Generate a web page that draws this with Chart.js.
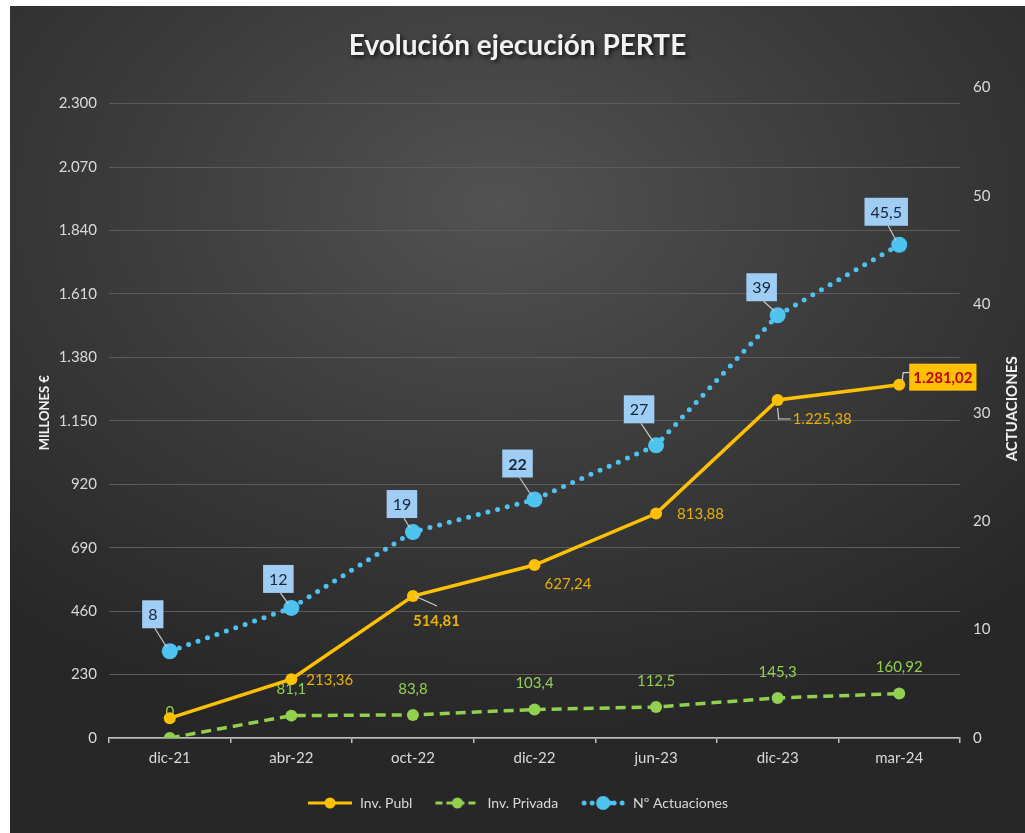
<!DOCTYPE html>
<html>
<head>
<meta charset="utf-8">
<script src="https://cdn.jsdelivr.net/npm/chart.js@4.4.1/dist/chart.umd.min.js"></script>
<style>
  html, body { margin: 0; padding: 0; background: #fff; }
  #wrap {
    position: absolute; left: 10px; top: 6px; width: 1015px; height: 827px;
    background: radial-gradient(ellipse 75% 65% at 48% 24%, #525252 0%, #3b3b3b 50%, #272727 100%);
  }
</style>
</head>
<body>
<div id="wrap"><canvas id="chart"></canvas></div>
<script>
const categories = ['dic-21', 'abr-22', 'oct-22', 'dic-22', 'jun-23', 'dic-23', 'mar-24'];
const invPubl = [72, 213.36, 514.81, 627.24, 813.88, 1225.38, 1281.02];
const invPrivada = [0, 81.1, 83.8, 103.4, 112.5, 145.3, 160.92];
const actuaciones = [8, 12, 19, 22, 27, 39, 45.5];
const leftStep = 230;
const leftMax = 2358;
const rightStep = 10;
const rightMax = 60;

// where each label sits relative to its point
const publLabelOffsets = [null, [15, 1], [0, 25], [10, 19], [21, 1], [15, 19], [10, -8]];
const actLabelOffsets = [[-17, -37], [-13, -29], [-11, -28], [-17, -36], [-17, -36], [-16, -28], [-13, -33]];

const ORANGE = '#ffc000';
const GREEN = '#92d050';
const BLUE = '#4ec3f0';
const TITLE = 'Evolución ejecución PERTE';

Chart.defaults.font.family = 'Lato, "Open Sans", sans-serif';

function fmtEs(v) {
  const parts = String(v).split('.');
  const grouped = parts[0].replace(/\B(?=(\d{3})+(?!\d))/g, '.');
  return parts[1] ? grouped + ',' + parts[1] : grouped;
}

function legendIcon(color, kind) {
  const c = document.createElement('canvas');
  c.width = 46; c.height = 18;
  const g = c.getContext('2d');
  g.strokeStyle = color; g.fillStyle = color;
  if (kind === 'dot') {
    [4, 12, 34, 42].forEach(x => { g.beginPath(); g.arc(x, 9, 2.5, 0, Math.PI * 2); g.fill(); });
    g.beginPath(); g.arc(23, 9, 7, 0, Math.PI * 2); g.fill();
    g.beginPath(); g.arc(30, 9, 2.5, 0, Math.PI * 2); g.fill();
  } else {
    g.lineWidth = 3;
    if (kind === 'dash') g.setLineDash([7, 4]);
    g.beginPath(); g.moveTo(1, 9); g.lineTo(45, 9); g.stroke();
    g.beginPath(); g.arc(23, 9, 5.5, 0, Math.PI * 2); g.fill();
  }
  return c;
}

const labelPlugin = {
  id: 'pointLabels',
  afterDatasetDraw(chart, args) {
    if (args.index !== 1) return;
    const ctx = chart.ctx;
    ctx.save();
    ctx.font = '15px Lato';
    ctx.fillStyle = GREEN;
    ctx.textAlign = 'center';
    ctx.textBaseline = 'middle';
    chart.getDatasetMeta(1).data.forEach((p, i) => {
      ctx.fillText(fmtEs(invPrivada[i]), p.x, p.y - 26);
    });
    ctx.restore();
  },
  afterDatasetsDraw(chart) {
    const ctx = chart.ctx;
    ctx.save();
    ctx.textBaseline = 'middle';

    // Inv. Publ labels
    chart.getDatasetMeta(0).data.forEach((p, i) => {
      const off = publLabelOffsets[i];
      if (!off) return;
      const txt = fmtEs(invPubl[i]);
      const x = p.x + off[0], y = p.y + off[1];
      ctx.strokeStyle = '#d0d0d0';
      ctx.lineWidth = 1.2;
      if (i === 6) {
        ctx.font = 'bold 15px Lato';
        const w = ctx.measureText(txt).width + 8;
        ctx.beginPath(); ctx.moveTo(p.x + 3, p.y - 4); ctx.lineTo(p.x + 4, y - 4); ctx.lineTo(x, y - 4); ctx.stroke();
        ctx.fillStyle = ORANGE;
        ctx.fillRect(x, y - 13, w, 27);
        ctx.fillStyle = '#c00000';
        ctx.textAlign = 'left';
        ctx.fillText(txt, x + 4, y + 1);
        return;
      }
      if (i === 2) {
        ctx.beginPath(); ctx.moveTo(p.x + 2, p.y); ctx.lineTo(p.x + 24, p.y + 10); ctx.stroke();
      }
      if (i === 5) {
        ctx.beginPath(); ctx.moveTo(p.x, p.y + 8); ctx.lineTo(p.x + 1, y); ctx.lineTo(x - 2, y); ctx.stroke();
      }
      ctx.font = (i === 2 ? 'bold ' : '') + '15px Lato';
      ctx.fillStyle = '#e8b100';
      ctx.textAlign = 'left';
      ctx.fillText(txt, x, y);
    });

    // Nº Actuaciones boxes
    chart.getDatasetMeta(2).data.forEach((p, i) => {
      const off = actLabelOffsets[i];
      const txt = fmtEs(actuaciones[i]);
      const bx = p.x + off[0], by = p.y + off[1];
      ctx.font = (i === 3 ? 'bold ' : '') + '16px Lato';
      const w = ctx.measureText(txt).width + 12, h = 28;
      ctx.strokeStyle = '#c8c8c8';
      ctx.lineWidth = 1.2;
      ctx.beginPath(); ctx.moveTo(bx + 2, by + h / 2); ctx.lineTo(p.x - 3, p.y - 4); ctx.stroke();
      ctx.fillStyle = '#9fcdf3';
      ctx.fillRect(bx - w / 2, by - h / 2, w, h);
      ctx.fillStyle = '#15263a';
      ctx.textAlign = 'center';
      ctx.fillText(txt, bx, by + 1);
    });
    ctx.restore();
  },
  afterDraw(chart) {
    const ctx = chart.ctx;
    const mid = (chart.chartArea.top + chart.chartArea.bottom) / 2;

    // title with a soft shadow
    ctx.save();
    ctx.font = 'bold 28px Lato';
    ctx.textAlign = 'center';
    ctx.textBaseline = 'middle';
    ctx.shadowColor = 'rgba(0,0,0,0.75)';
    ctx.shadowBlur = 4;
    ctx.shadowOffsetX = 2;
    ctx.shadowOffsetY = 2;
    ctx.fillStyle = '#f2f2f2';
    ctx.fillText(TITLE, chart.width / 2, 40);
    ctx.restore();

    ctx.save();
    ctx.fillStyle = '#f2f2f2';
    ctx.textAlign = 'center';
    ctx.textBaseline = 'middle';
    ctx.translate(35, mid);
    ctx.rotate(-Math.PI / 2);
    ctx.font = 'bold 13px Lato';
    ctx.fillText('MILLONES €', 0, 0);
    ctx.restore();
    ctx.save();
    ctx.fillStyle = '#f2f2f2';
    ctx.textAlign = 'center';
    ctx.textBaseline = 'middle';
    ctx.translate(1002, mid - 4);
    ctx.rotate(-Math.PI / 2);
    ctx.font = 'bold 15px Lato';
    ctx.fillText('ACTUACIONES', 0, 0);
    ctx.restore();
  }
};

const icons = [legendIcon(ORANGE, 'solid'), legendIcon(GREEN, 'dash'), legendIcon(BLUE, 'dot')];

new Chart(document.getElementById('chart'), {
  type: 'line',
  data: {
    labels: categories,
    datasets: [
      {
        label: 'Inv. Publ',
        data: invPubl,
        yAxisID: 'y',
        borderColor: ORANGE,
        backgroundColor: ORANGE,
        borderWidth: 3.5,
        pointRadius: 6,
        pointBorderWidth: 0,
        tension: 0
      },
      {
        label: 'Inv. Privada',
        data: invPrivada,
        yAxisID: 'y',
        borderColor: GREEN,
        backgroundColor: GREEN,
        borderWidth: 3.5,
        borderDash: [10, 6],
        pointRadius: 6,
        pointBorderWidth: 0,
        tension: 0
      },
      {
        label: 'Nº Actuaciones',
        data: actuaciones,
        yAxisID: 'y1',
        borderColor: BLUE,
        backgroundColor: BLUE,
        borderWidth: 5,
        borderDash: [0, 10],
        borderCapStyle: 'round',
        pointRadius: 8,
        pointBorderWidth: 0,
        tension: 0
      }
    ]
  },
  options: {
    responsive: true,
    maintainAspectRatio: false,
    animation: false,
    layout: { padding: { bottom: 13 } },
    plugins: {
      // title kept for layout only, drawn with a shadow in the plugin
      title: {
        display: true,
        text: TITLE,
        color: 'rgba(0,0,0,0)',
        font: { size: 28, weight: 'bold' },
        padding: { top: 22, bottom: 26 }
      },
      legend: {
        position: 'bottom',
        labels: {
          color: '#d9d9d9',
          font: { size: 14 },
          usePointStyle: true,
          pointStyleWidth: 46,
          padding: 22,
          generateLabels: chart => chart.data.datasets.map((ds, i) => ({
            text: ds.label,
            pointStyle: icons[i],
            fontColor: '#d9d9d9',
            hidden: false,
            datasetIndex: i,
            lineWidth: 0
          }))
        }
      },
      tooltip: { enabled: false }
    },
    scales: {
      x: {
        offset: true,
        afterFit: s => { s.height = 36; },
        grid: { drawOnChartArea: false, offset: true, tickLength: 5, color: '#bfbfbf', lineWidth: 1.5 },
        border: { color: '#bfbfbf', width: 1.5 },
        ticks: { color: '#d9d9d9', font: { size: 15 }, padding: 6 }
      },
      y: {
        position: 'left',
        min: 0,
        max: leftMax,
        afterFit: s => { s.width = 99; },
        grid: { color: '#5c5c5c', drawTicks: false, lineWidth: 1 },
        border: { display: false },
        ticks: {
          stepSize: leftStep,
          includeBounds: false,
          color: '#d9d9d9',
          font: { size: 15 },
          padding: 12,
          callback: v => fmtEs(v)
        }
      },
      y1: {
        position: 'right',
        min: 0,
        max: rightMax,
        afterFit: s => { s.width = 65; },
        grid: { display: false, drawTicks: false },
        border: { display: false },
        ticks: { stepSize: rightStep, color: '#d9d9d9', font: { size: 15 }, padding: 13 }
      }
    }
  },
  plugins: [labelPlugin]
});
</script>
</body>
</html>
